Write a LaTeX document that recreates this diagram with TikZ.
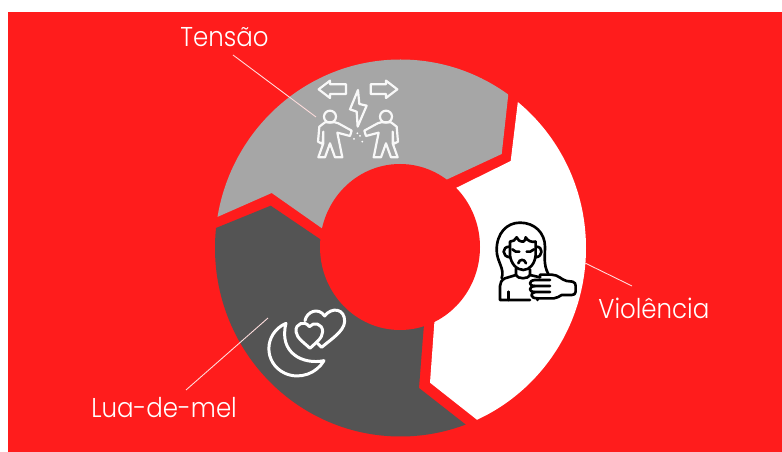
\documentclass[tikz,border=0pt]{standalone}
\usepackage{fontspec}
\usepackage{xcolor}
\usepackage{tikz}
\setmainfont{Poppins}[UprightFont=* Light,FakeStretch=0.9]
\definecolor{cyclered}{HTML}{FF1C1C}
\definecolor{cyclegray}{HTML}{A6A6A6}
\definecolor{cycledark}{HTML}{545454}
\tikzset{
  cyclelabel/.style={text=white, anchor=base west, inner sep=0pt, font=\fontsize{15.5}{18}\selectfont},
  cycleleader/.style={line width=0.5pt, draw=white!85!cyclered},
  iconwhite/.style={line width=1.7pt, draw=white, line cap=round, line join=round},
  iconthin/.style={line width=1.25pt, draw=white!92!cyclegray, line cap=round, line join=round},
  iconblack/.style={line width=1.5pt, draw=black, line cap=round, line join=round},
}

\begin{document}
\begin{tikzpicture}[x=0.02cm,y=-0.02cm]
\useasboundingbox (0,0) rectangle (782,452);
\fill[cyclered] (8,12) rectangle (782,452);
\begin{scope}
\clip (400.5,248) ellipse [x radius=185.5, y radius=188.5];
\fill[cyclegray] (200,224.6) -- (271.7,193) -- (345,244.5) -- (420,192) -- (501.7,154) -- (508.5,92.7) -- (513,50) -- (400,20) -- (200,20) -- cycle;
\fill[white] (522,70) -- (518,100.7) -- (510.7,161) -- (458,187) -- (425,202.6) -- (436,300) -- (430,382.7) -- (476,419) -- (500,438) -- (600,438) -- (600,70) -- cycle;
\fill[cycledark] (190,239) -- (216,228) -- (270.7,205.7) -- (345,256) -- (427,290) -- (422.7,340) -- (419,388) -- (465,424) -- (490,443.5) -- (400,460) -- (190,460) -- cycle;
\end{scope}
\fill[cyclered] (400,247) ellipse [x radius=80, y radius=83];
\begin{scope}[shift={(280,60)},scale=0.3333]
\draw[iconthin] (116,88) -- (150,62) -- (150,73) -- (198,73) -- (198,102) -- (150,102) -- (150,114) -- cycle;
\draw[iconthin] (352,88) -- (318,62) -- (318,73) -- (272,73) -- (272,102) -- (318,102) -- (318,114) -- cycle;
\draw[iconthin] (234,90) -- (210,148) -- (230,155) -- (233,200) -- (260,137) -- (238,132) -- cycle;
\draw[iconthin] (150,170) circle (18);
\draw[iconthin] (118,200) -- (114,245) -- (128,252) -- (130,215) -- (130,250) -- (115,292) -- (135,292) -- (150,250) -- (165,292) -- (187,292) -- (172,218) -- (210,228) -- (215,212) -- (175,190) -- (165,187) -- (135,187) -- cycle;
\draw[iconthin] (318,170) circle (18);
\draw[iconthin] (350,200) -- (354,245) -- (340,252) -- (338,215) -- (338,250) -- (353,292) -- (333,292) -- (318,250) -- (303,292) -- (281,292) -- (296,218) -- (258,228) -- (253,212) -- (293,190) -- (303,187) -- (333,187) -- cycle;
\fill[white] (232,220) circle (3);
\fill[white] (222,237) circle (3);
\fill[white] (240,228) circle (3);
\fill[white] (247,245) circle (3);
\end{scope}
\begin{scope}[shift={(480,200)},scale=0.3333]
\draw[iconblack] (65,235) .. controls (75,205) and (50,185) .. (50,150) .. controls (50,100) and (80,68) .. (120,68) .. controls (165,68) and (195,100) .. (195,140) .. controls (195,170) and (190,195) .. (205,222);
\draw[iconblack] (90,125) -- (90,165) .. controls (92,190) and (110,210) .. (130,210) .. controls (150,210) and (165,190) .. (167,165) -- (167,125);
\draw[iconblack] (90,125) .. controls (100,125) and (105,120) .. (110,112) .. controls (112,120) and (120,125) .. (130,125) .. controls (135,122) and (137,118) .. (137,112) .. controls (142,122) and (155,128) .. (167,125);
\draw[iconblack] (88,140) .. controls (65,140) and (65,170) .. (90,172);
\draw[iconblack] (169,140) .. controls (190,140) and (190,170) .. (167,172);
\draw[iconblack] (97,148) .. controls (102,155) and (112,157) .. (118,155);
\draw[iconblack] (140,155) .. controls (146,157) and (156,155) .. (162,148);
\draw[iconblack] (115,190) .. controls (118,176) and (134,176) .. (138,190);
\draw[iconblack] (108,205) -- (108,225) .. controls (112,238) and (146,238) .. (150,225) -- (150,208);
\draw[iconblack] (108,225) -- (75,235) .. controls (65,240) and (60,248) .. (60,258) -- (60,300) -- (150,300);
\draw[iconblack] (85,275) -- (85,300);
\draw[iconblack] (150,225) -- (180,232);
\draw[iconblack] (172,295) -- (172,300);
\draw[iconblack] (180,232) -- (180,224) -- (215,224) .. controls (235,224) and (245,240) .. (260,243) -- (278,245) .. controls (285,247) and (287,252) .. (287,258) -- (287,275) .. controls (287,282) and (282,285) .. (275,285) -- (245,285) .. controls (238,288) and (232,295) .. (222,295) -- (172,295);
\draw[iconblack] (210,240) -- (165,240) .. controls (145,242) and (145,258) .. (165,258) -- (210,258);
\draw[iconblack] (165,258) .. controls (145,260) and (145,276) .. (165,276) -- (210,276);
\draw[iconblack] (165,276) .. controls (150,278) and (150,295) .. (172,295);
\end{scope}
\begin{scope}[shift={(250,290)},scale=0.3333]
\draw[iconwhite] (108,100) .. controls (40,130) and (40,220) .. (105,250) .. controls (150,270) and (200,250) .. (222,212) .. controls (160,225) and (85,190) .. (108,100) -- cycle;
\draw[iconwhite] (178,110) .. controls (165,90) and (135,100) .. (138,125) .. controls (140,145) and (165,160) .. (180,175) .. controls (195,160) and (218,145) .. (218,125) .. controls (218,100) and (190,95) .. (178,110) -- cycle;
\draw[iconwhite] (165,92) .. controls (170,65) and (205,50) .. (224,78) .. controls (245,50) and (285,55) .. (284,95) .. controls (282,125) and (240,150) .. (215,172) -- (203,160);
\end{scope}
\node[cyclelabel] (tensao) at (180,47) {Tensão};
\node[cyclelabel] (violencia) at (598,319) {Violência};
\node[cyclelabel] (luademel) at (91,418) {Lua-de-mel};
\coordinate (tensaostart) at (233,55);
\coordinate (tensaoend) at (316,117);
\coordinate (violenciastart) at (632,286);
\coordinate (violenciaend) at (585,263);
\coordinate (luademelstart) at (186,390);
\coordinate (luademelend) at (268,318);
\draw[cycleleader] (tensaostart) -- (tensaoend);
\draw[cycleleader] (violenciastart) -- (violenciaend);
\draw[cycleleader] (luademelstart) -- (luademelend);
\end{tikzpicture}
\end{document}
